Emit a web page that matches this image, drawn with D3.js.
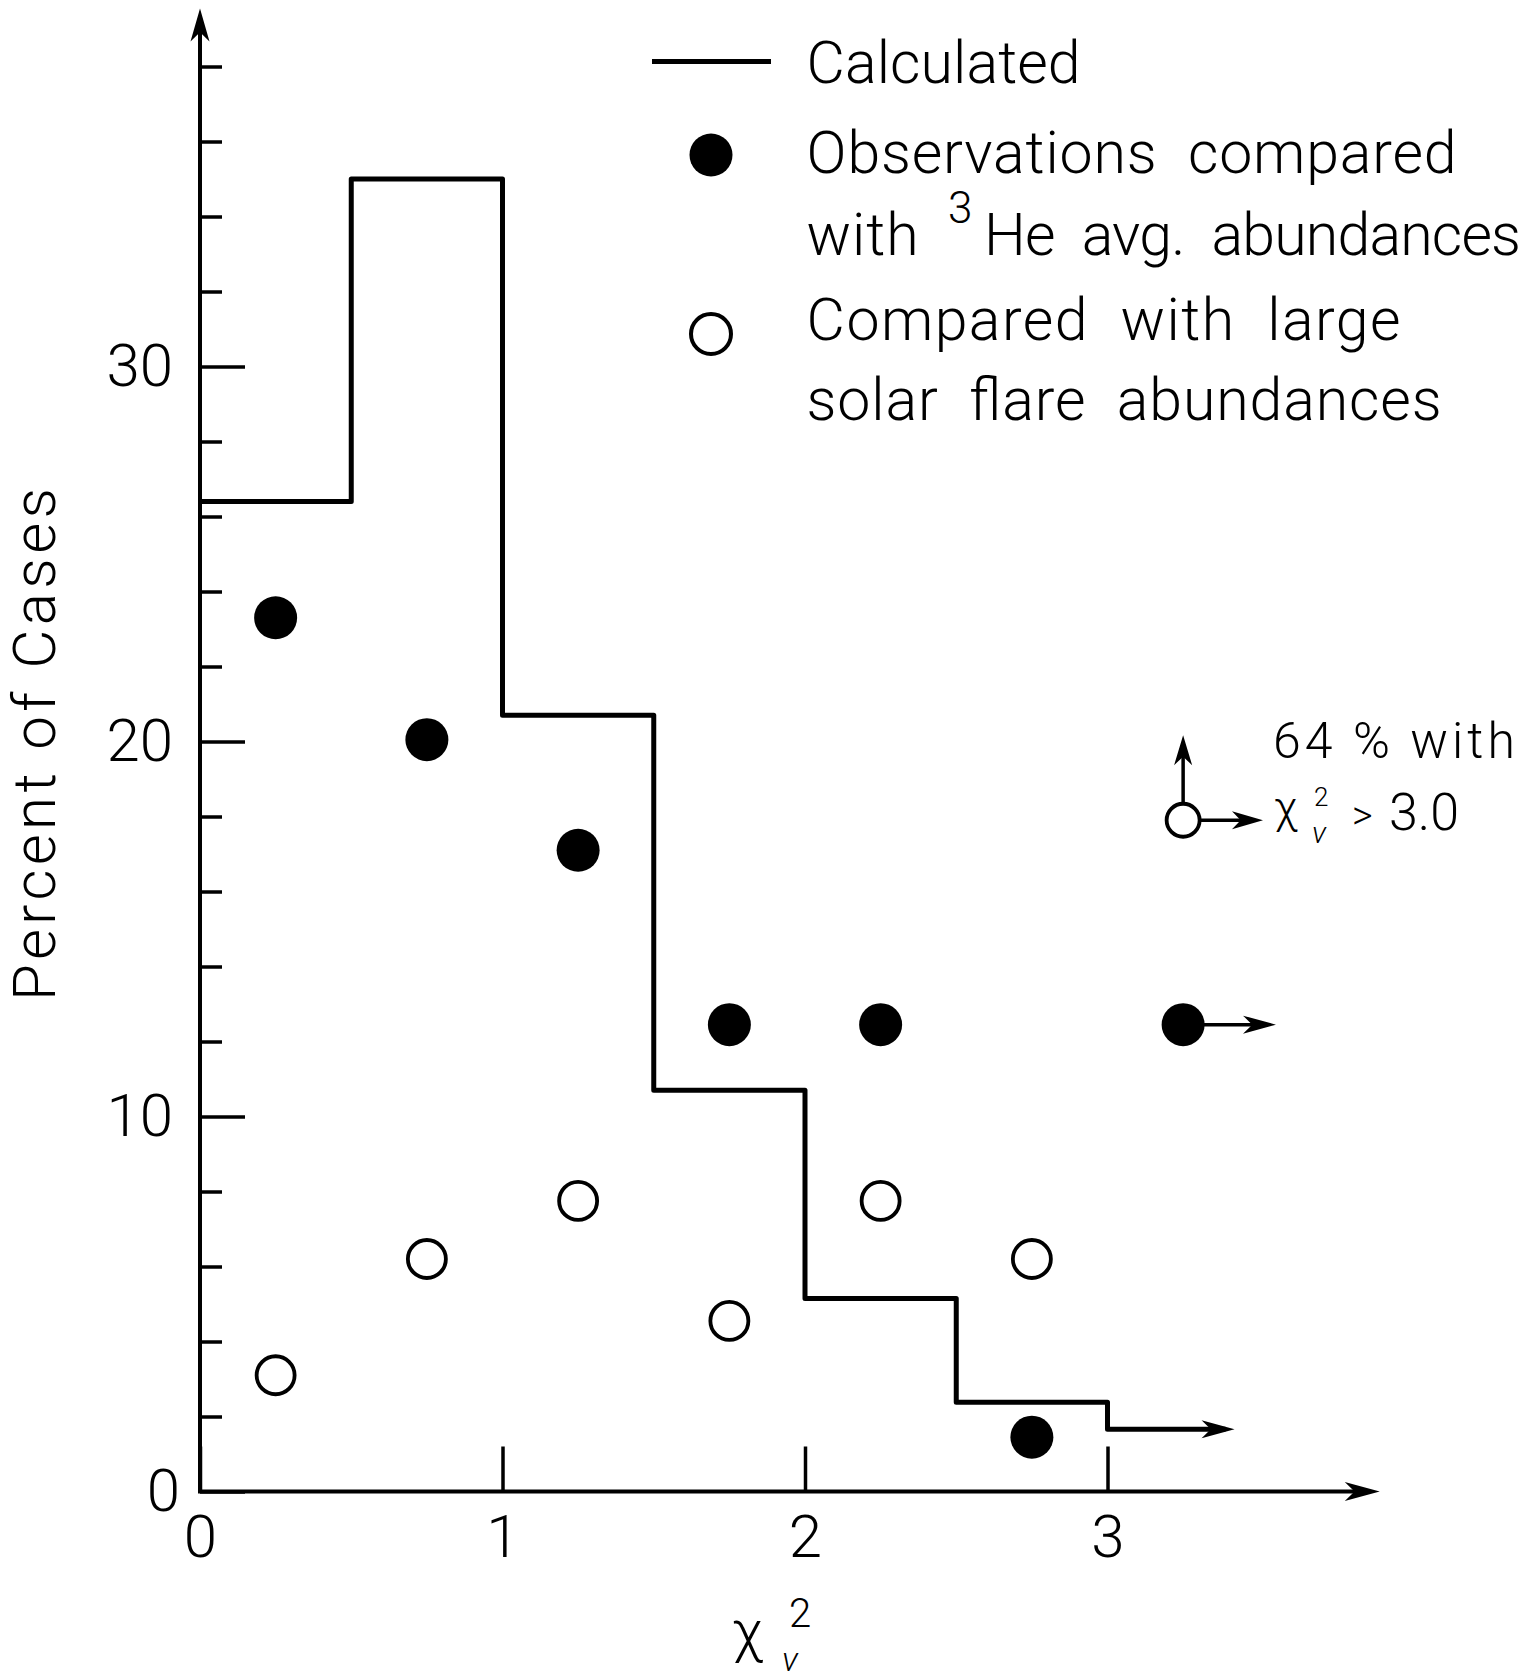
<!DOCTYPE html>
<html><head><meta charset="utf-8">
<script src="https://cdn.jsdelivr.net/npm/d3@7"></script>
<style>
html,body{margin:0;padding:0;background:#fff;}
svg text{font-family:Roboto,"DejaVu Sans",sans-serif;font-weight:300;fill:#000;}
</style></head><body>
<svg id="chart" width="1540" height="1680"></svg>
<script>
// ---- data ----
const binStarts   = [0, 0.5, 1, 1.5, 2, 2.5, 3];
const calculated  = [26.4, 35.0, 20.7, 10.7, 5.15, 2.38, 1.66];
const calcTailEnd = 3.42;
const binCenters  = [0.25, 0.75, 1.25, 1.75, 2.25, 2.75, 3.25];
const heAvg       = [23.3, 20.05, 17.1, 12.45, 12.45, 1.45, 12.45];
const solarFlare  = [3.1, 6.2, 7.75, 4.55, 7.75, 6.2, 17.9];
const majorYTicks = [0, 10, 20, 30];
const minorYTicks = [2, 4, 6, 8, 12, 14, 16, 18, 22, 24, 26, 28, 32, 34, 36, 38];
const xTicks      = [0, 1, 2, 3];
const yAxisTop    = 39.55;
const xAxisEnd    = 3.9;
const heArrowEnd  = 3.557;   // off-scale arrow for last filled point
const flareUpEnd  = 20.17;   // off-scale arrows for last open point
const flareRightEnd = 3.514;

const svg = d3.select("#chart");
const x = d3.scaleLinear().domain([0, 3]).range([200, 1107.5]);
const y = d3.scaleLinear().domain([0, 30]).range([1491.5, 366.5]);

function arrowHead(tx, ty, angleDeg, len, hw) {
  const p = `M0,0 L${-len},${-hw} L${-len*0.72},0 L${-len},${hw} Z`;
  svg.append("path").attr("d", p)
    .attr("transform", `translate(${tx},${ty}) rotate(${angleDeg})`)
    .attr("fill", "#000");
}

// ---- axes lines ----
svg.append("line").attr("x1", x(0)).attr("y1", y(0)).attr("x2", x(0)).attr("y2", y(yAxisTop) + 10)
  .attr("stroke", "#000").attr("stroke-width", 4);
arrowHead(x(0), y(yAxisTop), -90, 33, 9.5);
svg.append("line").attr("x1", x(0) - 2).attr("y1", y(0)).attr("x2", x(xAxisEnd) - 10).attr("y2", y(0))
  .attr("stroke", "#000").attr("stroke-width", 4);
arrowHead(x(xAxisEnd), y(0), 0, 35, 9.5);

// minor y ticks
const gMinor = svg.append("g").attr("transform", `translate(${x(0)},0)`)
  .call(d3.axisLeft(y).tickValues(minorYTicks).tickSize(-22).tickFormat(""));
gMinor.select(".domain").remove();
gMinor.selectAll("line").attr("stroke-width", 3.5);

// major y ticks
const gMajor = svg.append("g").attr("transform", `translate(${x(0)},0)`)
  .call(d3.axisLeft(y).tickValues(majorYTicks).tickSize(-45).tickPadding(27).tickFormat(d3.format("d")));
gMajor.select(".domain").remove();
gMajor.selectAll("line").attr("stroke-width", 3.5);
gMajor.selectAll("text").attr("font-size", 60).attr("font-family", null).style("font-weight", 300);
gMajor.selectAll(".tick").filter(d => d === 0).select("text").attr("x", -20);

// x ticks
const gX = svg.append("g").attr("transform", `translate(0,${y(0)})`)
  .call(d3.axisBottom(x).tickValues(xTicks).tickSize(-45).tickPadding(23).tickFormat(d3.format("d")));
gX.select(".domain").remove();
gX.selectAll("line").attr("stroke-width", 3.5);
gX.selectAll("text").attr("font-size", 60).attr("font-family", null).style("font-weight", 300);

// axis titles
svg.append("text").attr("transform", `translate(55,744.5) rotate(-90)`)
  .attr("text-anchor", "middle").attr("font-size", 60)
  .attr("textLength", 513).attr("lengthAdjust", "spacing").text("Percent of Cases");
const xt = svg.append("text");
xt.append("tspan").attr("x", 732).attr("y", 1651).attr("font-size", 58).text("χ");
xt.append("tspan").attr("x", 789).attr("y", 1627).attr("font-size", 40).text("2");
xt.append("tspan").attr("x", 782).attr("y", 1671).attr("font-size", 34).style("font-style", "italic").text("ν");

// ---- calculated histogram ----
const stepData = binStarts.map((b, i) => [b, calculated[i]])
  .concat([[calcTailEnd - 0.03, calculated[calculated.length - 1]]]);
const stepLine = d3.line().x(d => x(d[0])).y(d => y(d[1])).curve(d3.curveStepAfter);
svg.append("path").datum(stepData)
  .attr("d", stepLine).attr("fill", "none").attr("stroke", "#000")
  .attr("stroke-width", 5).attr("stroke-linejoin", "round");
arrowHead(x(calcTailEnd), y(calculated[calculated.length - 1]), 0, 33, 9);

// ---- off-scale arrows ----
const lastI = binCenters.length - 1;
svg.append("line").attr("x1", x(binCenters[lastI])).attr("y1", y(heAvg[lastI]))
  .attr("x2", x(heArrowEnd) - 8).attr("y2", y(heAvg[lastI])).attr("stroke", "#000").attr("stroke-width", 3.5);
arrowHead(x(heArrowEnd), y(heAvg[lastI]), 0, 33, 9);
svg.append("line").attr("x1", x(binCenters[lastI])).attr("y1", y(solarFlare[lastI]))
  .attr("x2", x(flareRightEnd) - 8).attr("y2", y(solarFlare[lastI])).attr("stroke", "#000").attr("stroke-width", 3.5);
arrowHead(x(flareRightEnd), y(solarFlare[lastI]), 0, 31, 9);
svg.append("line").attr("x1", x(binCenters[lastI])).attr("y1", y(solarFlare[lastI]))
  .attr("x2", x(binCenters[lastI])).attr("y2", y(flareUpEnd) + 8).attr("stroke", "#000").attr("stroke-width", 3.5);
arrowHead(x(binCenters[lastI]), y(flareUpEnd), -90, 30, 9);

// ---- points ----
svg.append("g").selectAll("circle").data(binCenters).join("circle")
  .attr("cx", d => x(d)).attr("cy", (d, i) => y(heAvg[i])).attr("r", 21.5).attr("fill", "#000");
svg.append("g").selectAll("circle").data(binCenters).join("circle")
  .attr("cx", d => x(d)).attr("cy", (d, i) => y(solarFlare[i]))
  .attr("r", (d, i) => i === lastI ? 16.5 : 19).attr("fill", "#fff").attr("stroke", "#000").attr("stroke-width", 3.8);

// annotation text
svg.append("text").attr("x", 1273).attr("y", 758).attr("font-size", 50)
  .attr("textLength", 242).attr("lengthAdjust", "spacing").text("64 % with");
const an = svg.append("text");
an.append("tspan").attr("x", 1274).attr("y", 823).attr("font-size", 44).text("χ");
an.append("tspan").attr("x", 1314).attr("y", 806).attr("font-size", 26).text("2");
an.append("tspan").attr("x", 1312).attr("y", 843).attr("font-size", 30).style("font-style", "italic").text("ν");
an.append("tspan").attr("x", 1352).attr("y", 829).attr("font-size", 40).text(">");
an.append("tspan").attr("x", 1389).attr("y", 830).attr("font-size", 52).text("3.0");

// ---- legend ----
svg.append("line").attr("x1", 652).attr("y1", 61.5).attr("x2", 771).attr("y2", 61.5)
  .attr("stroke", "#000").attr("stroke-width", 5);
svg.append("circle").attr("cx", 711).attr("cy", 155).attr("r", 21.5).attr("fill", "#000");
svg.append("circle").attr("cx", 711).attr("cy", 334).attr("r", 20).attr("fill", "#fff")
  .attr("stroke", "#000").attr("stroke-width", 4);
const legendRows = [
  {t: "Calculated", x: 806.6, y: 83, w: 274},
  {t: "Observations  compared", x: 806.6, y: 173, w: 650},
  {t: "with", x: 806.6, y: 255, w: 112},
  {t: "He  avg.  abundances", x: 984, y: 255, w: 537},
  {t: "Compared  with  large", x: 806.6, y: 340, w: 594},
  {t: "solar  flare  abundances", x: 806.6, y: 420, w: 635}
];
svg.append("g").selectAll("text").data(legendRows).join("text")
  .attr("x", d => d.x).attr("y", d => d.y).attr("font-size", 59)
  .attr("textLength", d => d.w).attr("lengthAdjust", "spacing").style("white-space", "pre")
  .text(d => d.t);
svg.append("text").attr("x", 948).attr("y", 223).attr("font-size", 44).text("3");
</script>
</body></html>
